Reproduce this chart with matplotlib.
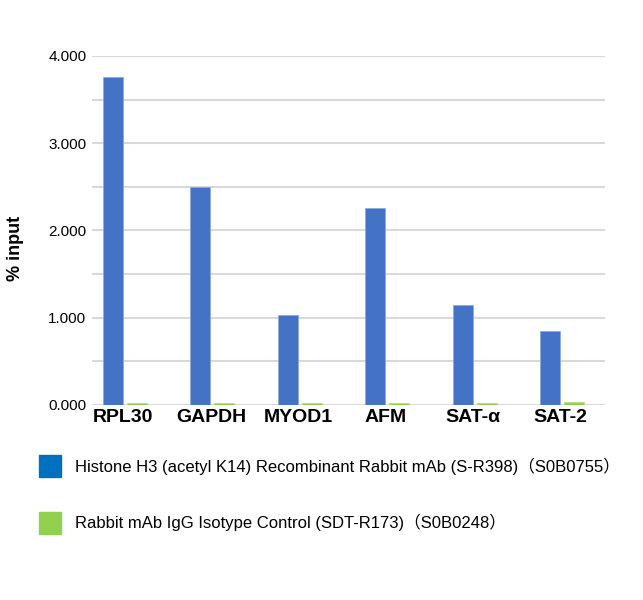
import matplotlib
matplotlib.use('Agg')
import matplotlib.pyplot as plt
from matplotlib.patches import Rectangle
import numpy as np

plt.rcParams['font.family'] = ['Liberation Sans', 'Noto Sans CJK SC', 'DejaVu Sans']

categories = ['RPL30', 'GAPDH', 'MYOD1', 'AFM', 'SAT-α', 'SAT-2']
h3k14_values = [3.76, 2.50, 1.03, 2.26, 1.15, 0.85]
igg_values = [0.02, 0.02, 0.02, 0.02, 0.02, 0.04]
series_labels = ['Histone H3 (acetyl K14) Recombinant Rabbit mAb (S-R398)（S0B0755）',
                 'Rabbit mAb IgG Isotype Control (SDT-R173)（S0B0248）']
yticks = [0, 1, 2, 3, 4]

blue = '#4472C4'
green = '#92D050'

fig = plt.figure(figsize=(6.43, 6.0), dpi=100)
ax = fig.add_axes([0.143, 0.325, 0.798, 0.5817])

x = np.arange(len(categories))
w = 0.23
ax.bar(x, h3k14_values, w, color=blue, edgecolor='#8FAADC', linewidth=0.6, zorder=3)
ax.bar(x + 0.275, igg_values, w, color=green, edgecolor='#B4DE86', linewidth=0.6, zorder=3)

ax.set_xlim(-0.24, 5.63)
ax.set_ylim(0, 4)
ax.set_yticks(yticks)
ax.set_yticks(np.arange(0, 4.01, 0.5), minor=True)
ax.set_yticklabels(['%.3f' % v for v in yticks], fontsize=11)
ax.set_xticks(x + 0.12)
ax.set_xticklabels(categories, fontsize=14, fontweight='bold')
ax.tick_params(axis='both', length=0, pad=4)
ax.tick_params(axis='y', which='minor', length=0)
ax.tick_params(axis='x', pad=3)
ax.grid(axis='y', which='both', color='#D9D9D9', linewidth=1.5, zorder=0)
for s in ax.spines.values():
    s.set_visible(False)
ax.set_ylabel('% input', fontsize=13, fontweight='bold')
ax.yaxis.set_label_coords(-0.133, 0.45)

# legend drawn by hand to match the layout
leg_colors = ['#0070C0', green]
leg_y = [466, 522.5]
for c, lab, yp in zip(leg_colors, series_labels, leg_y):
    fig.patches.append(Rectangle((39 / 643, 1 - (yp + 11) / 600), 22 / 643, 22 / 600,
                                 transform=fig.transFigure, color=c))
    fig.text(75 / 643, 1 - yp / 600, lab, fontsize=12, va='center', ha='left')

fig.savefig('out.png', dpi=100)
